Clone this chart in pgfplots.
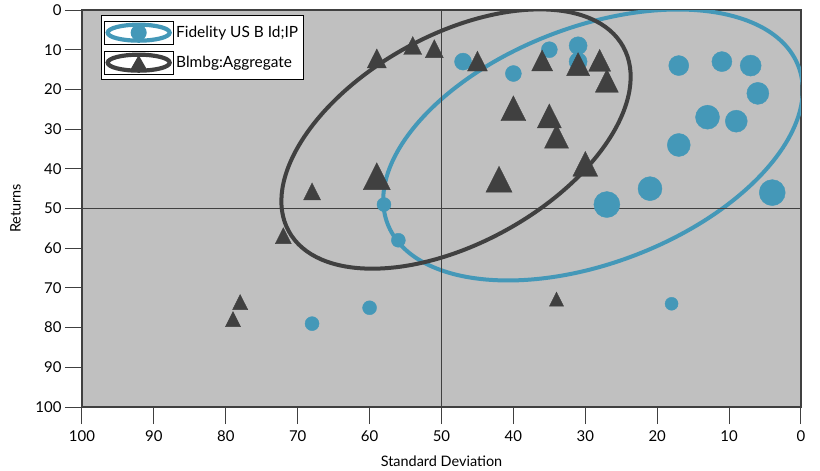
\documentclass[border=0pt]{standalone}
\usepackage{fontspec}
\setmainfont{Lato}
\usepackage{pgfplots}
\usepackage{pgfplotstable}
\pgfplotsset{compat=1.18}
\definecolor{cblue}{RGB}{68,152,184}
\definecolor{cdark}{RGB}{64,64,64}
\definecolor{cbg}{RGB}{192,192,192}

\pgfplotstableread{
x y s
47 13 8.5
40 16 8
35 10 8
31 9 9
31 13 9
17 14 10
11 13 10
7 14 10.5
6 21 11
13 27 12
9 28 11
17 34 11.5
21 45 12
27 49 13
4 46 13
58 49 7
56 58 7
60 75 7
68 79 7
18 74 6.5
}\fidelity

\pgfplotstableread{
x y s
79 78.5 8.7
78 74.2 8.7
72 57.5 9.2
68 46.4 9.8
59 43 15.6
59 13 11
54 9.7 10.4
51 10.5 10.4
45 13.7 11.5
42 43.7 15
40 25.8 14.4
36 13.6 12.1
35 27.7 13.9
34 32.8 13.9
31 14.6 13.3
28 13.6 12.7
27 18.8 13.3
30 39.8 14.4
34 73.4 8.1
}\aggregate

\begin{document}
\begin{tikzpicture}
\begin{axis}[
  scale only axis, width=719bp, height=397bp,
  xmin=0, xmax=100, ymin=0, ymax=100,
  x dir=reverse, y dir=reverse,
  xtick={0,10,...,100}, ytick={0,10,...,100},
  tick pos=left,
  tick align=outside, major tick length=17bp,
  tick style={cdark, line width=1bp},
  axis line style={cdark, line width=1.5bp},
  axis background/.style={fill=cbg},
  /pgf/number format/assume math mode=true,
  tick label style={font=\fontsize{15}{18}\selectfont, text=black},
  xticklabel style={yshift=-3bp},
  label style={font=\fontsize{14.5}{17}\selectfont},
  xlabel={Standard Deviation}, ylabel={Returns},
  xlabel style={yshift=-8bp},
  ylabel style={yshift=8bp},
  legend style={at={(0.026,0.987)}, anchor=north west, draw=black, line width=1bp,
    fill=white, font=\fontsize{15.5}{18}\selectfont, row sep=6bp,
    inner xsep=3bp, inner ysep=5bp},
  legend cell align=left,
]
\draw[cblue, line width=4bp, rotate around={21:(axis cs:28.93,34)}] (axis cs:28.93,34) ellipse (220bp and 118bp);
\draw[cdark, line width=4bp, rotate around={28.9:(axis cs:47.98,32.5)}] (axis cs:47.98,32.5) ellipse (191bp and 104bp);

\addplot[scatter, only marks, mark=*,
  scatter/use mapped color={draw=cblue, fill=cblue},
  visualization depends on={\thisrow{s}\as\ms},
  scatter/@pre marker code/.append style={/tikz/mark size=\ms bp},
  legend image code/.code={
    \path (0bp,-11.5bp) rectangle (69bp,11.5bp);
    \draw[cblue, line width=4.2bp] (34bp,0bp) ellipse (31bp and 8bp);
    \fill[cblue] (34bp,0bp) circle (7.5bp);}
] table[x=x, y=y] {\fidelity};
\addlegendentry{Fidelity US B Id;IP}

\addplot[scatter, only marks, mark=triangle*, mark options={yscale=1.15},
  scatter/use mapped color={draw=cdark, fill=cdark},
  visualization depends on={\thisrow{s}\as\ms},
  scatter/@pre marker code/.append style={/tikz/mark size=\ms bp},
  legend image code/.code={
    \path (0bp,-11.5bp) rectangle (69bp,11.5bp);
    \draw[cdark, line width=4.2bp] (34bp,0bp) ellipse (31bp and 8bp);
    \fill[cdark] (26bp,-7.5bp) -- (42bp,-7.5bp) -- (34bp,6.5bp) -- cycle;}
] table[x=x, y=y] {\aggregate};
\addlegendentry{Blmbg:Aggregate}

\addplot[cdark, line width=1.5bp, forget plot] coordinates {(50,0) (50,100)};
\addplot[cdark, line width=1.5bp, forget plot] coordinates {(0,50) (100,50)};
\end{axis}
\pgfresetboundingbox
\path ([xshift=-82bp,yshift=-64bp]current axis.south west) rectangle ([xshift=19bp,yshift=10bp]current axis.north east);
\end{tikzpicture}
\end{document}
